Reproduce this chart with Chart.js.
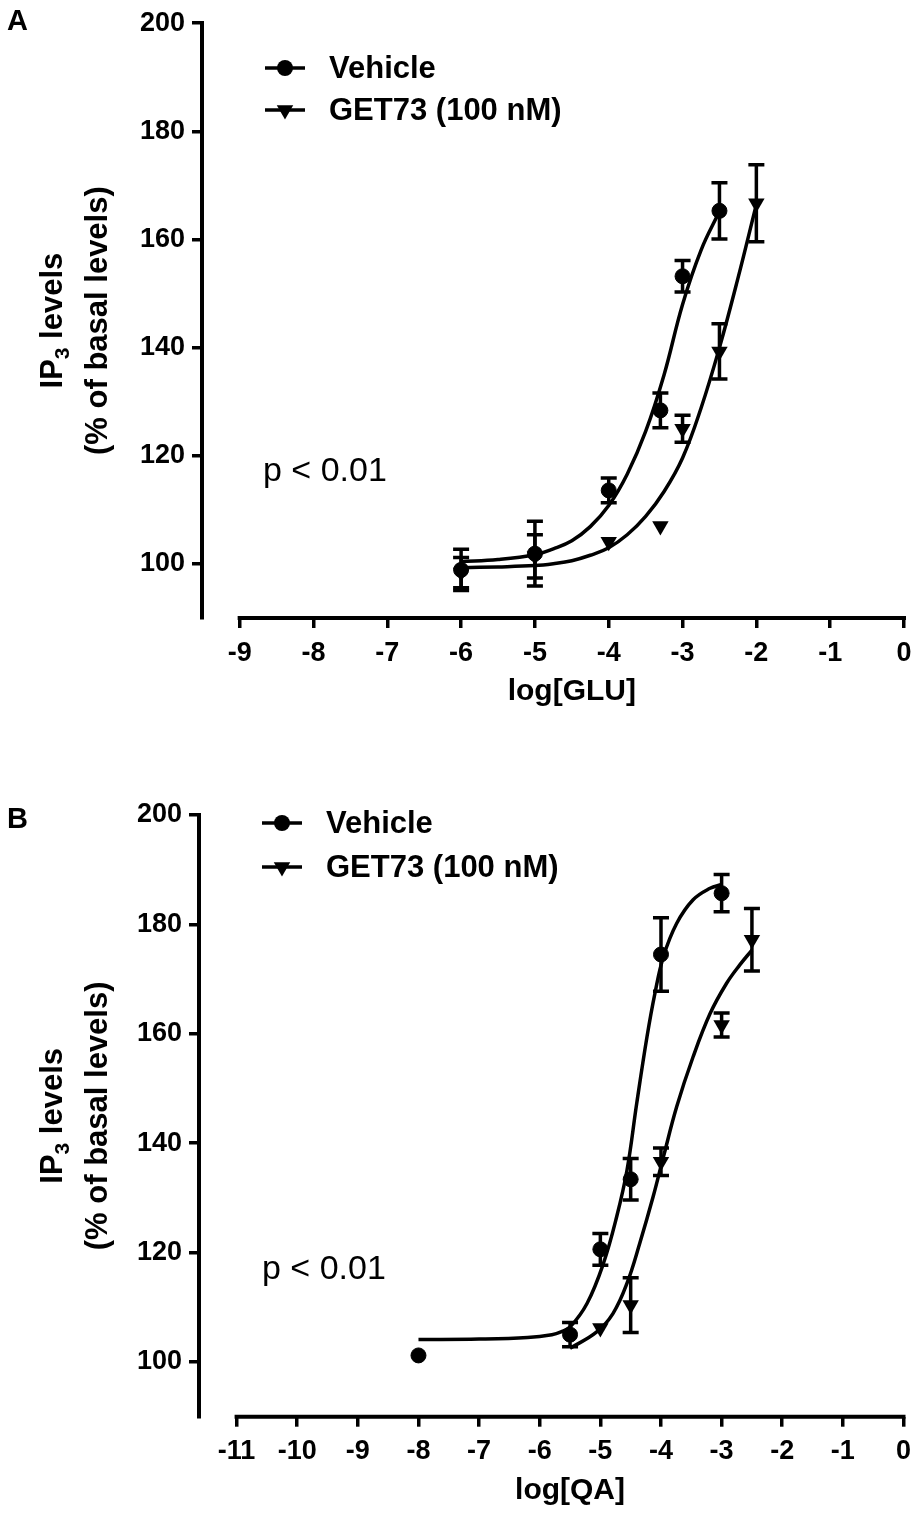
<!DOCTYPE html>
<html>
<head>
<meta charset="utf-8">
<script src="https://cdn.jsdelivr.net/npm/chart.js@4.4.1/dist/chart.umd.min.js"></script>
<style>
body { margin: 0; background: #fff; }
.panel { position: absolute; left: 0; }
</style>
</head>
<body>
<div class="panel" style="top:0px"><canvas id="chartA" width="921" height="760"></canvas></div>
<div class="panel" style="top:760px"><canvas id="chartB" width="921" height="755"></canvas></div>

<script>
// ---- Panel A : log[GLU] ----
const gluVehicleX   = [-6, -5, -4, -3.3, -3, -2.5];
const gluVehicleY   = [98.9, 101.9, 113.6, 128.4, 153.2, 165.3];
const gluVehicleErr = [3.8, 6.0, 2.3, 3.2, 2.9, 5.2];
const gluGetX   = [-6, -5, -4, -3.3, -3, -2.5, -2];
const gluGetY   = [98.4, 101.4, 104.1, 107.0, 125.0, 139.3, 166.7];
const gluGetErr = [2.8, 4.0, 0, 0, 2.5, 5.1, 7.1];
// fitted curves
const gluVehicleFitX = [-6, -5.5, -5, -4.75, -4.5, -4.25, -4, -3.75, -3.5, -3.25, -3, -2.75, -2.5];
const gluVehicleFitY = [100.4, 100.8, 101.7, 102.8, 104.3, 106.9, 110.8, 116.6, 124.5, 135.0, 148.0, 158.0, 165.2];
const gluGetFitX = [-6, -5.5, -5, -4.75, -4.5, -4.25, -4, -3.75, -3.5, -3.25, -3, -2.75, -2.5, -2.25, -2];
const gluGetFitY = [99.3, 99.45, 99.7, 100.05, 100.6, 101.6, 103.0, 105.4, 108.8, 113.4, 119.6, 128.8, 140.0, 152.8, 166.5];
const gluXTicks = [-9, -8, -7, -6, -5, -4, -3, -2, -1, 0];

// ---- Panel B : log[QA] ----
const qaVehicleX   = [-8, -5.5, -5, -4.5, -4, -3];
const qaVehicleY   = [101.2, 105.0, 120.6, 133.4, 174.5, 185.7];
const qaVehicleErr = [0, 2.2, 2.9, 3.8, 6.7, 3.4];
const qaGetX   = [-5, -4.5, -4, -3, -2.5];
const qaGetY   = [106.2, 110.4, 136.6, 161.6, 177.2];
const qaGetErr = [0, 5.0, 2.5, 2.2, 5.7];
const qaVehicleFitX = [-8, -7, -6.2, -5.8, -5.65, -5.5, -5.22, -4.95, -4.73, -4.56, -4.4, -4.23, -4.1, -3.96, -3.74, -3.47, -3.19, -3.0];
const qaVehicleFitY = [104.1, 104.2, 104.5, 105.0, 105.5, 106.4, 110.7, 118.0, 126.6, 135.1, 147.3, 159.5, 167.4, 174.1, 180.2, 184.5, 186.6, 187.3];
const qaGetFitX = [-5.5, -5.06, -4.79, -4.56, -4.35, -4.13, -3.96, -3.74, -3.47, -3.19, -2.92, -2.7, -2.5];
const qaGetFitY = [102.5, 105.5, 108.9, 114.4, 121.7, 130.2, 137.5, 146.7, 155.8, 163.7, 169.2, 172.6, 175.3];
const qaXTicks = [-11, -10, -9, -8, -7, -6, -5, -4, -3, -2, -1, 0];

const yTicks = [100, 120, 140, 160, 180, 200];
const seriesNames = ['Vehicle', 'GET73 (100 nM)'];

const FONT = "'Liberation Sans', Arial, Helvetica, sans-serif";

function pts(xs, ys) { return xs.map((x, i) => ({ x: x, y: ys[i] })); }

function drawMarker(ctx, style, x, y) {
  ctx.beginPath();
  if (style === 'circle') {
    ctx.arc(x, y, 8, 0, Math.PI * 2);
  } else {
    const r = 9.5;
    ctx.moveTo(x, y + r);
    ctx.lineTo(x - r * 0.866, y - r / 2);
    ctx.lineTo(x + r * 0.866, y - r / 2);
    ctx.closePath();
  }
  ctx.fill();
}

// error bars, split axis line and all the annotation text
const decor = {
  id: 'decor',
  beforeDatasetsDraw(chart, args, o) {
    const ctx = chart.ctx, xs = chart.scales.x, ys = chart.scales.y;
    ctx.save();
    ctx.strokeStyle = '#000';
    // x axis only spans the tick range
    ctx.lineWidth = 4;
    ctx.beginPath();
    const yb = chart.chartArea.bottom;
    ctx.moveTo(xs.getPixelForValue(o.xTicks[0]) - 2, yb);
    ctx.lineTo(xs.getPixelForValue(o.xTicks[o.xTicks.length - 1]) + 2, yb);
    ctx.stroke();
    // error bars
    ctx.lineWidth = 3.5;
    chart.data.datasets.forEach(ds => {
      if (!ds.errors) return;
      ds.data.forEach((p, i) => {
        const e = ds.errors[i];
        if (!e) return;
        const x = xs.getPixelForValue(p.x);
        const y1 = ys.getPixelForValue(p.y + e), y2 = ys.getPixelForValue(p.y - e);
        ctx.beginPath();
        ctx.moveTo(x, y1); ctx.lineTo(x, y2);
        ctx.moveTo(x - 8, y1); ctx.lineTo(x + 8, y1);
        ctx.moveTo(x - 8, y2); ctx.lineTo(x + 8, y2);
        ctx.stroke();
      });
    });
    ctx.restore();
  },
  afterDraw(chart, args, o) {
    const ctx = chart.ctx, xs = chart.scales.x, area = chart.chartArea;
    ctx.save();
    ctx.fillStyle = '#000';
    ctx.strokeStyle = '#000';

    // panel letter
    ctx.font = 'bold 29px ' + FONT;
    ctx.textAlign = 'left';
    ctx.textBaseline = 'alphabetic';
    ctx.fillText(o.letter, 7, o.letterY);

    // legend
    ['circle', 'triangle'].forEach((st, i) => {
      const yy = o.legendY[i];
      ctx.lineWidth = 3.5;
      ctx.beginPath();
      ctx.moveTo(o.legendX, yy); ctx.lineTo(o.legendX + 40, yy);
      ctx.stroke();
      drawMarker(ctx, st, o.legendX + 20, yy);
      ctx.font = 'bold 31px ' + FONT;
      ctx.textBaseline = 'middle';
      ctx.fillText(seriesNames[i], o.legendX + 64, yy + 1);
    });

    // p value
    ctx.font = '34px ' + FONT;
    ctx.textBaseline = 'alphabetic';
    ctx.fillText('p < 0.01', o.pX, o.pY);

    // x title, centred on the drawn axis
    const xa = xs.getPixelForValue(o.xTicks[0]), xb = xs.getPixelForValue(o.xTicks[o.xTicks.length - 1]);
    ctx.font = 'bold 30px ' + FONT;
    ctx.textAlign = 'center';
    ctx.fillText(o.xTitle, (xa + xb) / 2, o.xTitleY);

    // y title with subscript, rotated
    const cy = (area.top + area.bottom) / 2;
    ctx.textAlign = 'left';
    ctx.save();
    ctx.translate(62, cy);
    ctx.rotate(-Math.PI / 2);
    const big = 'bold 31px ' + FONT, small = 'bold 21px ' + FONT;
    ctx.font = big; const w1 = ctx.measureText('IP').width, w3 = ctx.measureText(' levels').width;
    ctx.font = small; const w2 = ctx.measureText('3').width;
    let sx = -(w1 + w2 + w3) / 2;
    ctx.font = big; ctx.fillText('IP', sx, 0); sx += w1;
    ctx.font = small; ctx.fillText('3', sx, 7); sx += w2;
    ctx.font = big; ctx.fillText(' levels', sx, 0);
    ctx.restore();
    ctx.save();
    ctx.translate(107, cy);
    ctx.rotate(-Math.PI / 2);
    ctx.font = big;
    ctx.textAlign = 'center';
    ctx.fillText('(% of basal levels)', 0, 0);
    ctx.restore();

    ctx.restore();
  }
};

function makePanel(id, p) {
  const tickFont = { family: FONT, size: 27, weight: 'bold' };
  return new Chart(document.getElementById(id), {
    type: 'scatter',
    data: {
      datasets: [
        { type: 'line', data: pts(p.vFitX, p.vFitY), borderColor: '#000', borderWidth: 3.5,
          pointRadius: 0, tension: 0.4, fill: false },
        { type: 'line', data: pts(p.gFitX, p.gFitY), borderColor: '#000', borderWidth: 3.5,
          pointRadius: 0, tension: 0.4, fill: false },
        { label: seriesNames[0], data: pts(p.vX, p.vY), errors: p.vErr, pointStyle: 'circle',
          pointRadius: 7.5, pointBorderWidth: 1, backgroundColor: '#000', borderColor: '#000' },
        { label: seriesNames[1], data: pts(p.gX, p.gY), errors: p.gErr, pointStyle: 'triangle',
          rotation: 180, pointRadius: 9.5, pointBorderWidth: 0, backgroundColor: '#000', borderColor: '#000' }
      ]
    },
    options: {
      responsive: false,
      animation: false,
      layout: { padding: { top: p.top, right: p.right, left: 0, bottom: 0 } },
      plugins: { legend: { display: false }, tooltip: { enabled: false }, decor: p.decor },
      scales: {
        x: {
          min: p.xMin, max: 0,
          afterBuildTicks: s => { s.ticks = p.xTicks.map(v => ({ value: v })); },
          afterFit: s => { s.height = p.xHeight; },
          border: { display: false },
          grid: { drawOnChartArea: false, drawTicks: true, tickLength: 10, lineWidth: 3.5, color: '#000' },
          ticks: { font: tickFont, color: '#000', padding: 9, maxRotation: 0, autoSkip: false }
        },
        y: {
          min: 90, max: 200,
          afterBuildTicks: s => { s.ticks = yTicks.map(v => ({ value: v })); },
          afterFit: s => { s.width = p.yWidth; },
          border: { display: true, width: 4, color: '#000' },
          grid: { drawOnChartArea: false, drawTicks: true, tickLength: 10, lineWidth: 3.5, color: '#000' },
          ticks: { font: tickFont, color: '#000', padding: 7 }
        }
      }
    },
    plugins: [decor]
  });
}

makePanel('chartA', {
  vX: gluVehicleX, vY: gluVehicleY, vErr: gluVehicleErr,
  gX: gluGetX, gY: gluGetY, gErr: gluGetErr,
  vFitX: gluVehicleFitX, vFitY: gluVehicleFitY, gFitX: gluGetFitX, gFitY: gluGetFitY,
  xTicks: gluXTicks, xMin: -9.51, top: 19, right: 17, yWidth: 202, xHeight: 142,
  decor: { letter: 'A', letterY: 30, legendX: 265, legendY: [68, 110], pX: 263, pY: 481,
           xTitle: 'log[GLU]', xTitleY: 700, xTicks: gluXTicks }
});

makePanel('chartB', {
  vX: qaVehicleX, vY: qaVehicleY, vErr: qaVehicleErr,
  gX: qaGetX, gY: qaGetY, gErr: qaGetErr,
  vFitX: qaVehicleFitX, vFitY: qaVehicleFitY, gFitX: qaGetFitX, gFitY: qaGetFitY,
  xTicks: qaXTicks, xMin: -11.62, top: 55, right: 17.5, yWidth: 199, xHeight: 98.3,
  decor: { letter: 'B', letterY: 68, legendX: 262, legendY: [63, 107], pX: 262, pY: 519,
           xTitle: 'log[QA]', xTitleY: 739, xTicks: qaXTicks }
});
</script>
</body>
</html>
